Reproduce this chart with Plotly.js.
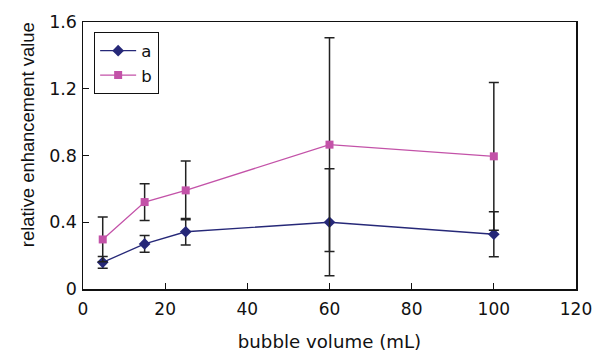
<!DOCTYPE html>
<html><head><meta charset="utf-8">
<script src="https://cdn.plot.ly/plotly-3.0.1.min.js"></script>
<style>html,body{margin:0;padding:0;background:#fff}#plot{width:593px;height:354px}</style>
</head><body><div id="plot"></div>
<script>
var volumes = [4.8, 15, 25, 60, 100];
var seriesA = [0.16, 0.27, 0.343, 0.40, 0.328];
var errorA = [0.035, 0.05, 0.08, 0.32, 0.135];
var seriesB = [0.297, 0.521, 0.591, 0.865, 0.795];
var errorB = [0.134, 0.11, 0.176, 0.64, 0.443];
var xTicks = [0, 20, 40, 60, 80, 100, 120];
var yTicks = [0, 0.4, 0.8, 1.2, 1.6];
var yTickText = ['0', '0.4', '0.8', '1.2', '1.6'];
var xTitle = 'bubble volume (mL)';
var yTitle = 'relative enhancement value';

var wide = {family: 'DejaVu Sans, sans-serif', size: 17.5, color: '#111'};
var xtickFont = {family: 'DejaVu Sans, sans-serif', size: 17, color: '#111'};
var narrow = {family: 'Liberation Sans, Arial, sans-serif', size: 18.4, color: '#111'};
var traces = [
  {x: volumes, y: seriesA, name: 'a', type: 'scatter', mode: 'lines+markers',
   line: {color: '#262878', width: 1.3},
   marker: {symbol: 'diamond', size: 9, color: '#262878'},
   error_y: {type: 'data', array: errorA, visible: true, color: '#222', thickness: 1.5, width: 5}},
  {x: volumes, y: seriesB, name: 'b', type: 'scatter', mode: 'lines+markers',
   line: {color: '#c352a8', width: 1.3},
   marker: {symbol: 'square', size: 8, color: '#c352a8'},
   error_y: {type: 'data', array: errorB, visible: true, color: '#222', thickness: 1.5, width: 5}}
];
var layout = {
  width: 593, height: 354,
  margin: {l: 83, r: 17, t: 22, b: 65},
  paper_bgcolor: '#fff', plot_bgcolor: '#fff',
  font: wide,
  showlegend: true,
  legend: {x: 0.022, y: 0.962, xanchor: 'left', yanchor: 'top', bordercolor: '#111', borderwidth: 1.3,
           bgcolor: '#fff', font: {family: wide.family, size: 16.5, color: '#111'}, tracegroupgap: 0,
           itemwidth: 36},
  xaxis: {range: [0, 120], tickvals: xTicks, ticktext: xTicks.map(String), ticks: 'inside', ticklen: 6,
          tickcolor: '#111', showgrid: false, zeroline: false, showline: true, linecolor: '#111', linewidth: 1.5,
          mirror: true, tickfont: xtickFont, ticklabelstandoff: 4, ticklabeloverflow: 'allow',
          title: {text: xTitle, font: {family: wide.family, size: 18.2, color: '#111'}, standoff: 17}},
  yaxis: {range: [0, 1.6], tickvals: yTicks, ticktext: yTickText, ticks: 'inside', ticklen: 6,
          tickcolor: '#111', showgrid: false, zeroline: false, showline: true, linecolor: '#111', linewidth: 1.5,
          mirror: true, tickfont: wide, ticklabelstandoff: 1, ticklabeloverflow: 'allow'},
  annotations: [{text: yTitle, textangle: -90, xref: 'paper', yref: 'paper', x: -0.112, y: 0.579,
                 xanchor: 'center', yanchor: 'middle', showarrow: false, font: narrow}]
};
Plotly.newPlot('plot', traces, layout, {displayModeBar: false, staticPlot: true});
</script></body></html>
